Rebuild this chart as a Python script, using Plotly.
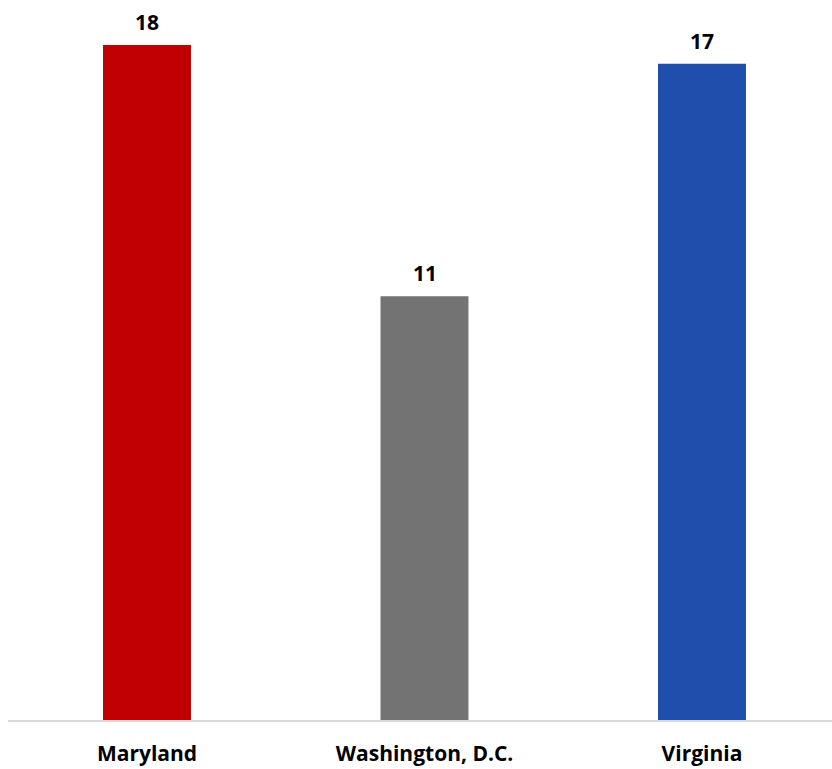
import plotly.graph_objects as go

categories = ["Maryland", "Washington, D.C.", "Virginia"]
values = [18.0, 11.3, 17.5]
labels = ["18", "11", "17"]
colors = ["#C00000", "#737373", "#1F4EAD"]

FONT = "Open Sans"

fig = go.Figure()
fig.add_trace(go.Bar(x=categories, y=values, marker=dict(color=colors, line=dict(width=0)),
                     width=0.317, hoverinfo="skip"))
for c, v, t in zip(categories, values, labels):
    fig.add_annotation(x=c, y=v, text="<b>%s</b>" % t, showarrow=False, yshift=23,
                       font=dict(family=FONT, size=21, color="#000000"))

fig.update_layout(
    width=832, height=769,
    margin=dict(l=8, r=0, t=0, b=49),
    plot_bgcolor="white", paper_bgcolor="white",
    showlegend=False,
    xaxis=dict(range=[-0.5009, 2.4685], showline=True, linecolor="#D9D9D9", linewidth=2,
               ticks="outside", ticklen=14, tickcolor="rgba(0,0,0,0)",
               tickfont=dict(family=FONT, size=21, color="#000000"),
               tickprefix="<b>", ticksuffix="</b>",
               showgrid=False),
    yaxis=dict(range=[0, 19.2], visible=False, showgrid=False, zeroline=False),
)
fig.write_html("out.html")
